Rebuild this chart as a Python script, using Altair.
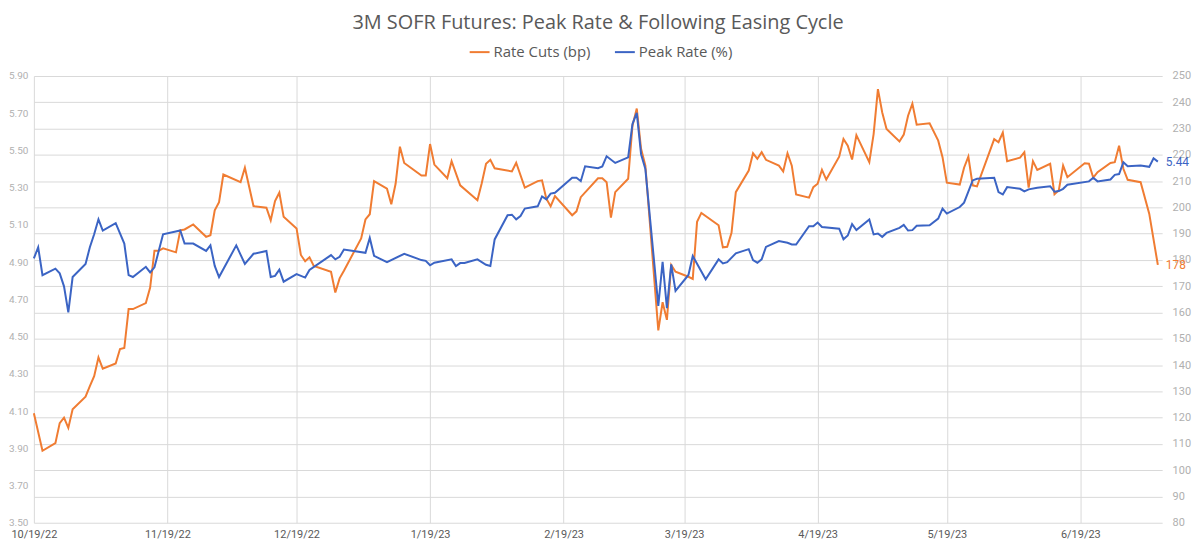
import altair as alt
import pandas as pd

TITLE = "3M SOFR Futures: Peak Rate & Following Easing Cycle"
SERIES = ["Rate Cuts (bp)", "Peak Rate (%)"]
COLORS = ["#f07c32", "#3b64c4"]

cuts_dates = [
    "2022-10-19", "2022-10-21", "2022-10-24", "2022-10-25", "2022-10-26", "2022-10-27", "2022-10-28",
    "2022-10-31", "2022-11-01", "2022-11-02", "2022-11-03", "2022-11-04", "2022-11-07", "2022-11-08",
    "2022-11-09", "2022-11-10", "2022-11-11", "2022-11-14", "2022-11-15", "2022-11-16", "2022-11-17",
    "2022-11-18", "2022-11-21", "2022-11-22", "2022-11-23", "2022-11-25", "2022-11-28", "2022-11-29",
    "2022-11-30", "2022-12-01", "2022-12-02", "2022-12-06", "2022-12-07", "2022-12-09", "2022-12-12",
    "2022-12-13", "2022-12-14", "2022-12-15", "2022-12-16", "2022-12-19", "2022-12-20", "2022-12-21",
    "2022-12-22", "2022-12-23", "2022-12-27", "2022-12-28", "2022-12-29", "2022-12-30", "2023-01-03",
    "2023-01-04", "2023-01-05", "2023-01-06", "2023-01-09", "2023-01-10", "2023-01-11", "2023-01-12",
    "2023-01-13", "2023-01-17", "2023-01-18", "2023-01-19", "2023-01-20", "2023-01-23", "2023-01-24",
    "2023-01-26", "2023-01-30", "2023-01-31", "2023-02-01", "2023-02-02", "2023-02-03", "2023-02-07",
    "2023-02-08", "2023-02-10", "2023-02-13", "2023-02-14", "2023-02-15", "2023-02-16", "2023-02-17",
    "2023-02-21", "2023-02-22", "2023-02-23", "2023-02-27", "2023-02-28", "2023-03-01", "2023-03-02",
    "2023-03-03", "2023-03-06", "2023-03-07", "2023-03-08", "2023-03-09", "2023-03-10", "2023-03-13",
    "2023-03-14", "2023-03-15", "2023-03-16", "2023-03-17", "2023-03-20", "2023-03-21", "2023-03-22",
    "2023-03-23", "2023-03-27", "2023-03-28", "2023-03-29", "2023-03-30", "2023-03-31", "2023-04-03",
    "2023-04-04", "2023-04-05", "2023-04-06", "2023-04-07", "2023-04-10", "2023-04-11", "2023-04-12",
    "2023-04-13", "2023-04-14", "2023-04-17", "2023-04-18", "2023-04-19", "2023-04-20", "2023-04-21",
    "2023-04-24", "2023-04-25", "2023-04-26", "2023-04-27", "2023-04-28", "2023-05-01", "2023-05-02",
    "2023-05-03", "2023-05-04", "2023-05-05", "2023-05-08", "2023-05-09", "2023-05-10", "2023-05-11",
    "2023-05-12", "2023-05-15", "2023-05-17", "2023-05-18", "2023-05-19", "2023-05-22", "2023-05-23",
    "2023-05-24", "2023-05-25", "2023-05-26", "2023-05-30", "2023-05-31", "2023-06-01", "2023-06-02",
    "2023-06-05", "2023-06-06", "2023-06-07", "2023-06-08", "2023-06-09", "2023-06-12", "2023-06-13",
    "2023-06-14", "2023-06-15", "2023-06-16", "2023-06-20", "2023-06-21", "2023-06-22", "2023-06-23",
    "2023-06-26", "2023-06-27", "2023-06-28", "2023-06-29", "2023-06-30", "2023-07-03", "2023-07-05",
    "2023-07-07",
]
cuts_values = [
    121.7, 107.4, 110.3, 117.9, 120.0, 116.1, 123.2,
    128.0, 132.0, 135.8, 142.9, 138.6, 140.6, 146.1,
    146.5, 161.3, 161.3, 163.6, 169.5, 183.5, 183.5,
    184.4, 182.9, 191.3, 191.6, 193.5, 188.8, 189.4,
    198.9, 202.0, 212.5, 209.6, 215.1, 200.5, 199.9,
    195.1, 202.4, 205.6, 196.4, 192.0, 181.9, 179.5,
    181.0, 177.7, 175.5, 167.6, 173.0, 175.9, 188.2,
    195.4, 197.4, 210.0, 207.1, 201.2, 209.0, 223.1,
    216.9, 212.1, 212.1, 224.1, 216.3, 211.1, 217.6,
    208.4, 202.7, 209.2, 216.6, 218.1, 214.9, 213.7,
    217.0, 207.5, 210.0, 210.3, 203.3, 200.4, 204.3,
    197.0, 198.5, 203.9, 211.1, 211.1, 209.6, 196.1,
    205.8, 210.9, 231.1, 237.6, 222.3, 215.9, 153.2,
    163.9, 157.2, 178.1, 175.5, 173.6, 172.8, 194.5,
    197.9, 193.2, 184.8, 185.0, 190.3, 205.8, 214.0,
    220.6, 218.5, 221.0, 218.1, 215.9, 213.7, 220.6,
    215.9, 204.9, 203.7, 207.7, 209.0, 214.3, 210.6,
    219.3, 226.0, 223.5, 218.2, 227.5, 217.2, 227.9,
    245.0, 236.1, 229.8, 225.1, 227.7, 234.9, 239.5,
    231.5, 232.0, 225.4, 219.1, 209.4, 208.7, 215.1,
    219.3, 208.4, 208.0, 226.0, 224.8, 228.5, 217.6,
    218.9, 221.0, 207.5, 217.6, 214.3, 216.6, 205.0,
    206.5, 215.9, 211.5, 216.8, 216.6, 211.3, 213.4,
    216.9, 217.2, 223.5, 214.7, 210.5, 209.6, 197.6,
    178.1,
]

peak_dates = [
    "2022-10-19", "2022-10-20", "2022-10-21", "2022-10-24", "2022-10-25", "2022-10-26", "2022-10-27",
    "2022-10-28", "2022-10-31", "2022-11-01", "2022-11-02", "2022-11-03", "2022-11-04", "2022-11-07",
    "2022-11-09", "2022-11-10", "2022-11-11", "2022-11-14", "2022-11-15", "2022-11-16", "2022-11-18",
    "2022-11-22", "2022-11-23", "2022-11-25", "2022-11-28", "2022-11-29", "2022-11-30", "2022-12-01",
    "2022-12-05", "2022-12-07", "2022-12-09", "2022-12-12", "2022-12-13", "2022-12-14", "2022-12-15",
    "2022-12-16", "2022-12-19", "2022-12-21", "2022-12-22", "2022-12-27", "2022-12-28", "2022-12-29",
    "2022-12-30", "2023-01-04", "2023-01-05", "2023-01-06", "2023-01-09", "2023-01-13", "2023-01-17",
    "2023-01-18", "2023-01-19", "2023-01-20", "2023-01-24", "2023-01-25", "2023-01-26", "2023-01-27",
    "2023-01-30", "2023-02-01", "2023-02-02", "2023-02-03", "2023-02-06", "2023-02-07", "2023-02-08",
    "2023-02-09", "2023-02-10", "2023-02-13", "2023-02-14", "2023-02-15", "2023-02-16", "2023-02-17",
    "2023-02-21", "2023-02-22", "2023-02-23", "2023-02-24", "2023-02-27", "2023-02-28", "2023-03-01",
    "2023-03-03", "2023-03-06", "2023-03-07", "2023-03-08", "2023-03-09", "2023-03-10", "2023-03-13",
    "2023-03-14", "2023-03-15", "2023-03-16", "2023-03-17", "2023-03-20", "2023-03-21", "2023-03-24",
    "2023-03-27", "2023-03-28", "2023-03-29", "2023-03-31", "2023-04-03", "2023-04-04", "2023-04-05",
    "2023-04-06", "2023-04-07", "2023-04-10", "2023-04-12", "2023-04-13", "2023-04-14", "2023-04-17",
    "2023-04-18", "2023-04-19", "2023-04-20", "2023-04-24", "2023-04-25", "2023-04-26", "2023-04-27",
    "2023-04-28", "2023-05-01", "2023-05-02", "2023-05-03", "2023-05-04", "2023-05-05", "2023-05-08",
    "2023-05-09", "2023-05-10", "2023-05-11", "2023-05-12", "2023-05-15", "2023-05-17", "2023-05-18",
    "2023-05-19", "2023-05-22", "2023-05-23", "2023-05-25", "2023-05-26", "2023-05-30", "2023-05-31",
    "2023-06-01", "2023-06-02", "2023-06-05", "2023-06-06", "2023-06-07", "2023-06-09", "2023-06-12",
    "2023-06-13", "2023-06-14", "2023-06-15", "2023-06-16", "2023-06-21", "2023-06-22", "2023-06-23",
    "2023-06-26", "2023-06-27", "2023-06-28", "2023-06-29", "2023-06-30", "2023-07-03", "2023-07-05",
    "2023-07-06", "2023-07-07",
]
peak_values = [
    4.920, 4.980, 4.830, 4.865, 4.840, 4.770, 4.630,
    4.820, 4.890, 4.980, 5.050, 5.130, 5.070, 5.110,
    5.000, 4.830, 4.820, 4.875, 4.845, 4.872, 5.050,
    5.070, 5.000, 5.000, 4.960, 4.990, 4.880, 4.820,
    4.990, 4.890, 4.945, 4.960, 4.820, 4.826, 4.860,
    4.795, 4.836, 4.817, 4.858, 4.938, 4.915, 4.929,
    4.968, 4.950, 5.030, 4.934, 4.900, 4.945, 4.911,
    4.907, 4.883, 4.897, 4.915, 4.879, 4.895, 4.895,
    4.915, 4.886, 4.879, 5.022, 5.152, 5.155, 5.130,
    5.148, 5.188, 5.200, 5.253, 5.237, 5.268, 5.273,
    5.353, 5.353, 5.335, 5.415, 5.405, 5.414, 5.469,
    5.433, 5.463, 5.642, 5.702, 5.480, 5.400, 4.665,
    4.902, 4.653, 4.888, 4.745, 4.831, 4.933, 4.808,
    4.915, 4.893, 4.900, 4.947, 4.970, 4.911, 4.897,
    4.915, 4.982, 5.013, 5.004, 4.995, 4.995, 5.093,
    5.093, 5.113, 5.089, 5.080, 5.023, 5.043, 5.104,
    5.072, 5.129, 5.049, 5.054, 5.036, 5.057, 5.084,
    5.100, 5.070, 5.072, 5.095, 5.098, 5.134, 5.188,
    5.161, 5.196, 5.220, 5.339, 5.348, 5.353, 5.276,
    5.264, 5.303, 5.294, 5.280, 5.291, 5.300, 5.308,
    5.278, 5.282, 5.294, 5.316, 5.334, 5.353, 5.334,
    5.344, 5.369, 5.373, 5.437, 5.415, 5.419, 5.412,
    5.458, 5.440,
]

x_domain = ["2022-10-19", "2023-07-08"]
x_ticks = ["2022-10-19", "2022-11-19", "2022-12-19", "2023-01-19", "2023-02-19",
           "2023-03-19", "2023-04-19", "2023-05-19", "2023-06-19"]
left_ticks = [3.5, 3.7, 3.9, 4.1, 4.3, 4.5, 4.7, 4.9, 5.1, 5.3, 5.5, 5.7, 5.9]
right_ticks = [80, 90, 100, 110, 120, 130, 140, 150, 160, 170, 180, 190, 200,
               210, 220, 230, 240, 250]


def dt(s):
    y, m, d = s.split("-")
    return alt.DateTime(year=int(y), month=int(m), date=int(d))


def frame(dates, values, name):
    return pd.DataFrame({"date": [d + "T00:00:00" for d in dates],
                         "value": values, "series": name})


cuts_df = frame(cuts_dates, cuts_values, SERIES[0])
peak_df = frame(peak_dates, peak_values, SERIES[1])

AX_FONT = "Roboto"
GRID = "#d9d9d9"

x_enc = alt.X(
    "date:T",
    scale=alt.Scale(domain=[dt(x_domain[0]), dt(x_domain[1])]),
    axis=alt.Axis(values=[dt(s) for s in x_ticks], format="%-m/%-d/%y", title=None,
                  grid=True, gridColor=GRID, domain=False, ticks=False, labelFlush=False,
                  labelFont=AX_FONT, labelFontSize=11, labelColor="#595959",
                  labelPadding=6),
)

color_enc = alt.Color(
    "series:N",
    scale=alt.Scale(domain=SERIES, range=COLORS),
    legend=alt.Legend(orient="none", legendX=437, legendY=-35, direction="horizontal",
                      title=None, labelFont="Open Sans", labelFontSize=15,
                      labelColor="#595959", symbolType="stroke", symbolStrokeWidth=2,
                      symbolSize=400, labelOffset=3, columnPadding=20, padding=0),
)

y_right = alt.Y(
    "value:Q",
    scale=alt.Scale(domain=[80, 250], nice=False, zero=False),
    axis=alt.Axis(orient="right", values=right_ticks, title=None, grid=True,
                  gridColor=GRID, domain=False, ticks=False, labelFont=AX_FONT,
                  labelFlush=False, labelFontSize=11, labelColor="#b0b0b0", labelPadding=10),
)

y_left = alt.Y(
    "value:Q",
    scale=alt.Scale(domain=[3.5, 5.9], nice=False, zero=False),
    axis=alt.Axis(orient="left", values=left_ticks, format=".2f", title=None,
                  grid=False, domain=False, ticks=False, labelFont=AX_FONT,
                  labelFlush=False, labelFontSize=10, labelColor="#b0b0b0", labelPadding=6),
)

cuts_line = alt.Chart(cuts_df).mark_line(strokeWidth=2).encode(x=x_enc, y=y_right, color=color_enc)
cuts_label = alt.Chart(cuts_df.iloc[[-1]]).mark_text(
    align="left", baseline="middle", dx=8, font="Roboto", fontSize=12, color=COLORS[0]
).encode(x=x_enc, y=y_right, text=alt.Text("value:Q", format=".0f"))

peak_line = alt.Chart(peak_df).mark_line(strokeWidth=2).encode(x=x_enc, y=y_left, color=color_enc)
peak_label = alt.Chart(peak_df.iloc[[-1]]).mark_text(
    align="left", baseline="middle", dx=8, font="Roboto", fontSize=12, color=COLORS[1]
).encode(x=x_enc, y=y_left, text=alt.Text("value:Q", format=".2f"))

chart = alt.layer(
    alt.layer(cuts_line, cuts_label),
    alt.layer(peak_line, peak_label),
).resolve_scale(y="independent").properties(
    width=1134,
    height=449,
    padding={"left": 26, "top": 67, "right": 30, "bottom": 17},
    autosize=alt.AutoSizeParams(type="none"),
    title=alt.TitleParams(TITLE, font="Open Sans", fontSize=20, fontWeight="normal",
                          color="#595959", anchor="middle", offset=8),
).configure_view(stroke=None)

chart.save("out.html", embed_options={"renderer": "svg", "actions": False})
